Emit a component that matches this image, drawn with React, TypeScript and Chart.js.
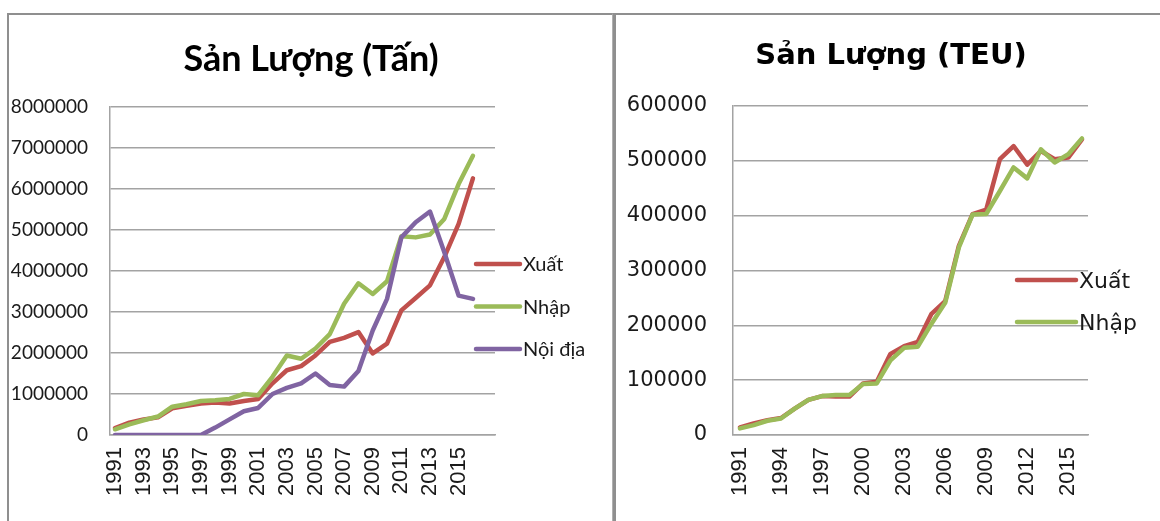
import React, { useEffect, useRef } from "react";
import { Chart, registerables } from "chart.js";

Chart.register(...registerables);

// Years shown on both panels
const years = [
  1991, 1992, 1993, 1994, 1995, 1996, 1997, 1998, 1999, 2000, 2001, 2002, 2003,
  2004, 2005, 2006, 2007, 2008, 2009, 2010, 2011, 2012, 2013, 2014, 2015, 2016,
];

// Sản lượng (Tấn)
const tanXuat = [
  170000, 300000, 380000, 430000, 650000, 710000, 770000, 790000, 770000, 830000,
  880000, 1260000, 1580000, 1680000, 1940000, 2270000, 2370000, 2510000, 1990000,
  2230000, 3040000, 3340000, 3650000, 4340000, 5150000, 6260000,
];
const tanNhap = [
  140000, 260000, 360000, 450000, 690000, 750000, 830000, 850000, 880000, 1000000,
  970000, 1420000, 1940000, 1860000, 2110000, 2460000, 3200000, 3700000, 3440000,
  3750000, 4850000, 4820000, 4890000, 5270000, 6120000, 6810000,
];
const tanNoiDia = [
  0, 0, 0, 0, 0, 0, 0, 180000, 380000, 580000, 660000, 1000000, 1150000, 1260000,
  1500000, 1220000, 1180000, 1560000, 2550000, 3320000, 4820000, 5190000, 5450000,
  4460000, 3400000, 3320000,
];

// Sản lượng (TEU)
const teuXuat = [
  14000, 21000, 27000, 31000, 48000, 64000, 71000, 70000, 70000, 94000, 97000,
  148000, 162000, 170000, 221000, 244000, 345000, 403000, 411000, 503000, 527000,
  493000, 518000, 503000, 506000, 539000,
];
const teuNhap = [
  12000, 18000, 26000, 30000, 48000, 64000, 71000, 73000, 73000, 93000, 94000,
  136000, 159000, 161000, 203000, 241000, 342000, 402000, 403000, 445000, 488000,
  468000, 521000, 497000, 512000, 541000,
];

// Axis labels
const tanYearTicks = [1991, 1993, 1995, 1997, 1999, 2001, 2003, 2005, 2007, 2009, 2011, 2013, 2015];
const teuYearTicks = [1991, 1994, 1997, 2000, 2003, 2006, 2009, 2012, 2015];
const tanMax = 8000000;
const tanStep = 1000000;
const teuMax = 600000;
const teuStep = 100000;

const RED = "#C0504D";
const GREEN = "#9BBB59";
const PURPLE = "#8064A2";
const GRID = "#a3a3a3";
const TEXT = "#1a1a1a";

type Decor = {
  title: string;
  titleFont: string;
  titleX: number;
  titleY: number;
  legendFont: string;
  legendX: number;
  legendLen: number;
  legendY: number;
  legendGap: number;
  legendBaseline: number;
};

// Title and right-hand legend drawn over the plot, Excel style
function decorPlugin(d: Decor) {
  return {
    id: "panelDecor",
    afterDraw(chart: any) {
      const ctx = chart.ctx as CanvasRenderingContext2D;
      ctx.save();
      ctx.fillStyle = "#000";
      ctx.font = d.titleFont;
      ctx.textAlign = "center";
      ctx.textBaseline = "alphabetic";
      ctx.fillText(d.title, d.titleX, d.titleY);

      const sets = chart.data.datasets;
      sets.forEach((ds: any, i: number) => {
        const y = d.legendY + i * d.legendGap;
        ctx.strokeStyle = ds.borderColor;
        ctx.lineWidth = 4.5;
        ctx.lineCap = "round";
        ctx.beginPath();
        ctx.moveTo(d.legendX, y);
        ctx.lineTo(d.legendX + d.legendLen, y);
        ctx.stroke();
        ctx.font = d.legendFont;
        ctx.fillStyle = TEXT;
        ctx.textAlign = "left";
        ctx.fillText(ds.label, d.legendX + d.legendLen + 3, y + d.legendBaseline);
      });
      ctx.restore();
    },
  };
}

function series(label: string, values: number[], color: string, order: number) {
  return {
    label,
    data: values.map((v, i) => ({ x: years[i], y: v })),
    borderColor: color,
    backgroundColor: color,
    borderWidth: 4.5,
    pointRadius: 0,
    tension: 0,
    borderJoinStyle: "round" as const,
    borderCapStyle: "round" as const,
    order,
  };
}

type PanelProps = {
  width: number;
  height: number;
  datasets: any[];
  yMax: number;
  yStep: number;
  yFont: { family: string; size: number };
  yPad: number;
  yWidth: number;
  xMin: number;
  xMax: number;
  xTicks: number[];
  padRight: number;
  padTop: number;
  decor: Decor;
};

function Panel(p: PanelProps) {
  const ref = useRef<HTMLCanvasElement | null>(null);
  useEffect(() => {
    if (!ref.current) return;
    const chart = new Chart(ref.current, {
      type: "line",
      data: { datasets: p.datasets },
      options: {
        animation: false,
        responsive: false,
        maintainAspectRatio: false,
        layout: { padding: { left: 0, right: p.padRight, top: p.padTop, bottom: 0 } },
        plugins: { legend: { display: false }, title: { display: false }, tooltip: { enabled: false } },
        scales: {
          x: {
            type: "linear",
            min: p.xMin,
            max: p.xMax,
            afterBuildTicks: (scale: any) => {
              scale.ticks = p.xTicks.map((v) => ({ value: v }));
            },
            afterFit: (scale: any) => {
              scale.height = 86;
            },
            grid: { display: false, drawTicks: false },
            border: { display: true, color: GRID, width: 1.5 },
            ticks: {
              autoSkip: false,
              minRotation: 90,
              maxRotation: 90,
              padding: 12,
              color: TEXT,
              font: { family: "'Liberation Sans', Arial, sans-serif", size: 22 },
              callback: (v: any) => String(v),
            },
          },
          y: {
            type: "linear",
            min: 0,
            max: p.yMax,
            afterFit: (scale: any) => {
              scale.width = p.yWidth;
            },
            grid: { color: GRID, lineWidth: 1.5, drawTicks: false },
            border: { display: true, color: GRID, width: 1.5 },
            ticks: {
              stepSize: p.yStep,
              padding: p.yPad,
              color: TEXT,
              font: p.yFont,
              callback: (v: any) => String(v),
            },
          },
        },
      } as any,
      plugins: [decorPlugin(p.decor)],
    });
    return () => chart.destroy();
  }, []);
  return (
    <canvas
      ref={ref}
      width={p.width}
      height={p.height}
      style={{ display: "block", width: p.width, height: p.height }}
    />
  );
}

export default function App() {
  const tanSets = [
    series("Xuất", tanXuat, RED, 3),
    series("Nhập", tanNhap, GREEN, 2),
    series("Nội địa", tanNoiDia, PURPLE, 1),
  ];
  const teuSets = [series("Xuất", teuXuat, RED, 2), series("Nhập", teuNhap, GREEN, 1)];

  return (
    <div
      style={{
        position: "absolute",
        left: 0,
        top: 0,
        width: 1160,
        height: 521,
        overflow: "hidden",
        background: "#fff",
      }}
    >
      <div
        style={{
          position: "absolute",
          left: 7,
          top: 13,
          width: 603,
          height: 600,
          borderLeft: "2px solid #8f8f8f",
          borderTop: "2px solid #8f8f8f",
          borderRight: "1px solid #b0b0b0",
        }}
      />
      <div
        style={{
          position: "absolute",
          left: 613,
          top: 13,
          width: 600,
          height: 600,
          borderLeft: "3px solid #8f8f8f",
          borderTop: "2px solid #8f8f8f",
        }}
      />
      <div style={{ position: "absolute", left: 0, top: 0, width: 612, height: 521 }}>
        <Panel
          width={612}
          height={521}
          datasets={tanSets}
          yMax={tanMax}
          yStep={tanStep}
          yFont={{ family: "Lato, sans-serif", size: 19 }}
          yPad={22}
          yWidth={110}
          xMin={1990.65}
          xMax={2017.54}
          xTicks={tanYearTicks}
          padRight={117}
          padTop={107}
          decor={{
            title: "Sản Lượng (Tấn)",
            titleFont: "bold 36px Lato, sans-serif",
            titleX: 311,
            titleY: 71,
            legendFont: "20px Lato, sans-serif",
            legendX: 476,
            legendLen: 44,
            legendY: 264,
            legendGap: 42.5,
            legendBaseline: 7,
          }}
        />
      </div>
      <div style={{ position: "absolute", left: 616, top: 0, width: 544, height: 521 }}>
        <Panel
          width={544}
          height={521}
          datasets={teuSets}
          yMax={teuMax}
          yStep={teuStep}
          yFont={{ family: "'DejaVu Sans', Verdana, sans-serif", size: 21 }}
          yPad={26}
          yWidth={117}
          xMin={1990.49}
          xMax={2016.44}
          xTicks={teuYearTicks}
          padRight={72}
          padTop={106}
          decor={{
            title: "Sản Lượng (TEU)",
            titleFont: "bold 29px 'DejaVu Sans', Verdana, sans-serif",
            titleX: 275,
            titleY: 64,
            legendFont: "22px 'DejaVu Sans', Verdana, sans-serif",
            legendX: 401,
            legendLen: 59,
            legendY: 280,
            legendGap: 42,
            legendBaseline: 8,
          }}
        />
      </div>
    </div>
  );
}
